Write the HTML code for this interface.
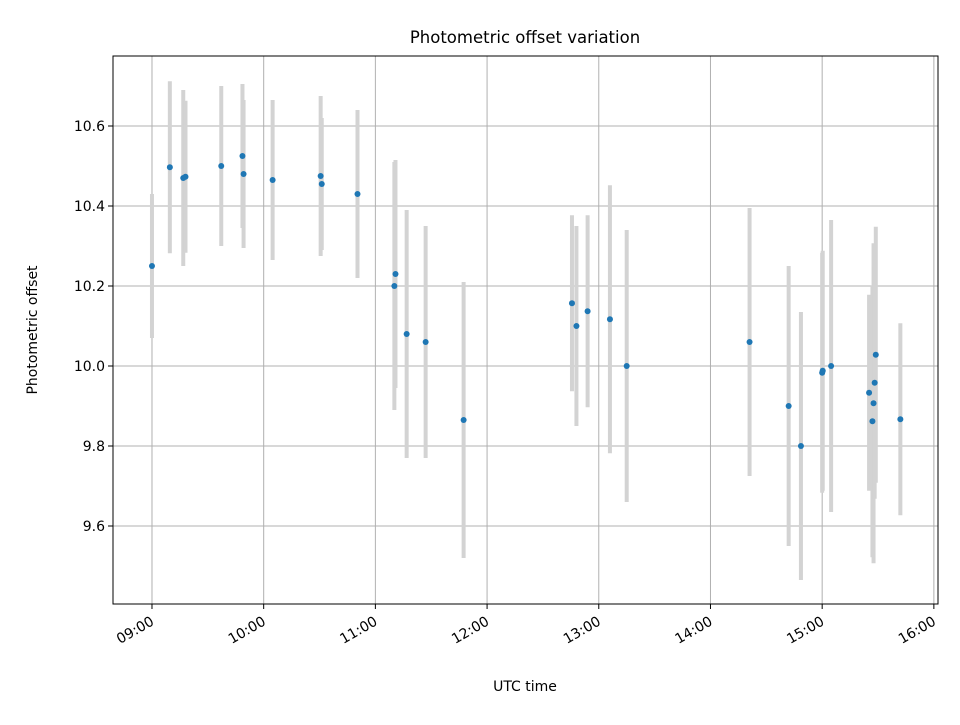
<!DOCTYPE html>
<html><head><meta charset="utf-8"><style>
body{margin:0;background:#fff}
svg text{font-family:"DejaVu Sans","Liberation Sans",sans-serif;fill:#000}
</style></head><body>
<svg id="chart" width="960" height="720" viewBox="0 0 960 720" xmlns="http://www.w3.org/2000/svg">
<text x="525" y="43" font-size="16.5" text-anchor="middle">Photometric offset variation</text>
<g id="grid"></g>
<g id="bars"></g>
<g id="pts"></g>
<rect x="113" y="56" width="825" height="548" fill="none" stroke="#000" stroke-width="1"/>
<g id="xt"></g>
<g id="yt"></g>
<text x="525" y="691" font-size="14" text-anchor="middle">UTC time</text>
<text transform="translate(37,330) rotate(-90)" font-size="14" text-anchor="middle">Photometric offset</text>
</svg>
<script>
const times=[9.00,9.16,9.28,9.30,9.62,9.81,9.82,10.08,10.51,10.52,10.84,11.17,11.18,11.28,11.45,11.79,12.76,12.80,12.90,13.10,13.25,14.35,14.70,14.81,15.00,15.005,15.08,15.42,15.45,15.46,15.47,15.48,15.70];
const offsets=[10.25,10.497,10.47,10.473,10.50,10.525,10.48,10.465,10.475,10.455,10.43,10.20,10.23,10.08,10.06,9.865,10.157,10.10,10.137,10.117,10.0,10.06,9.90,9.80,9.983,9.988,10.0,9.933,9.862,9.907,9.958,10.028,9.867];
const errors=[0.18,0.215,0.22,0.19,0.20,0.18,0.185,0.20,0.20,0.165,0.21,0.31,0.285,0.31,0.29,0.345,0.22,0.25,0.24,0.335,0.34,0.335,0.35,0.335,0.3,0.3,0.365,0.245,0.34,0.4,0.29,0.32,0.24];
const xTickVals=[9,10,11,12,13,14,15,16];
const xTickLabels=["09:00","10:00","11:00","12:00","13:00","14:00","15:00","16:00"];
const yTickVals=[9.6,9.8,10.0,10.2,10.4,10.6];
const yTickLabels=["9.6","9.8","10.0","10.2","10.4","10.6"];
const L=113,R=938,T=56,B=604,x0=8.651,x1=16.037,y0=9.405,y1=10.775;
const X=v=>L+(v-x0)/(x1-x0)*(R-L);
const Y=v=>B-(v-y0)/(y1-y0)*(B-T);
const NS="http://www.w3.org/2000/svg";
function mk(p,t,a){const e=document.createElementNS(NS,t);for(const k in a)e.setAttribute(k,a[k]);p.appendChild(e);return e;}
const g=document.getElementById('grid'),xt=document.getElementById('xt'),yt=document.getElementById('yt');
xTickVals.forEach((v,i)=>{const x=X(v);
 const gl=mk(g,'line',{x1:x,x2:x,y1:T,y2:B,stroke:'#b0b0b0','stroke-width':1});
 
 const tk=mk(xt,'line',{x1:x,x2:x,y1:B,y2:B+5,stroke:'#000'});
 
 const tx=mk(xt,'text',{transform:`translate(${x+3},${B+20}) rotate(-30)`,'font-size':14,'text-anchor':'end'});
 tx.textContent=xTickLabels[i];
 });
yTickVals.forEach((v,i)=>{const y=Y(v);
 const gl=mk(g,'line',{x1:L,x2:R,y1:y,y2:y,stroke:'#b0b0b0','stroke-width':1});
 
 const tk=mk(yt,'line',{x1:L-5,x2:L,y1:y,y2:y,stroke:'#000'});
 
 const tx=mk(yt,'text',{x:L-8,y:y+5,'font-size':14,'text-anchor':'end'});
 tx.textContent=yTickLabels[i];
 });
const bg=document.getElementById('bars'),pg=document.getElementById('pts');
times.forEach((t,i)=>{const x=X(t);
 const b=mk(bg,'line',{x1:x,x2:x,y1:Y(offsets[i]+errors[i]),y2:Y(offsets[i]-errors[i]),stroke:'#d3d3d3','stroke-width':4});
 
 const c=mk(pg,'circle',{cx:x,cy:Y(offsets[i]),r:3,fill:'#1f77b4'});
 });
</script>
</body></html>
